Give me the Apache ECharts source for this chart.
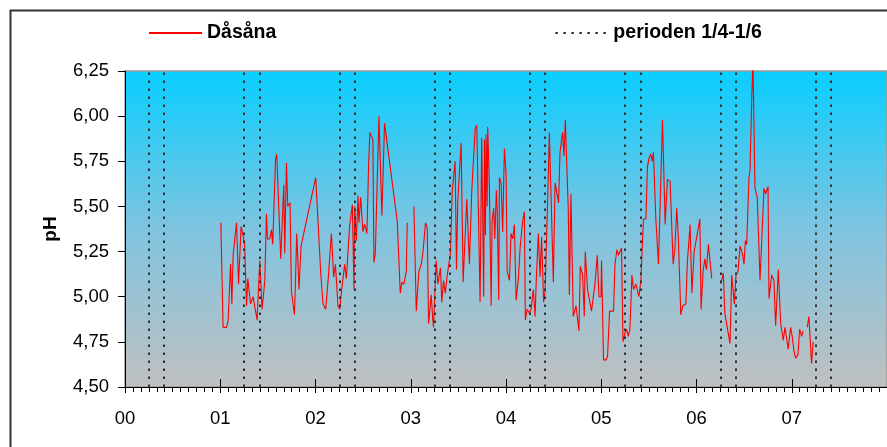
<!DOCTYPE html>
<html>
<head>
<meta charset="utf-8">
<script src="https://cdn.jsdelivr.net/npm/echarts@6/dist/echarts.min.js"></script>
<style>
html,body{margin:0;padding:0;background:#fff;}
#c{width:887px;height:447px;}
</style>
</head>
<body>
<div id="c"></div>
<script>
// x values in years since 2000 (00 = Jan 2000); null pH = gap in the line
var years = [
1.006,1.030,1.066,1.083,1.108,1.122,1.135,1.171,1.192,1.219,1.230,1.255,1.276,1.289,1.318,1.345,1.363,1.387,1.415,1.439,
1.468,1.485,1.496,1.520,1.538,1.551,1.580,1.593,1.635,1.667,1.677,1.695,1.709,1.733,1.747,1.779,1.789,1.803,1.827,1.848,
2.002,2.016,2.055,2.079,2.107,2.135,2.167,2.191,2.209,2.236,2.254,2.271,2.306,2.324,2.358,2.387,2.404,2.411,2.429,2.446,
2.456,2.474,2.498,2.516,2.540,2.558,2.571,2.603,2.613,2.628,2.666,2.697,2.725,2.858,2.890,2.907,2.928,2.953,2.963,3.000,
3.033,3.058,3.074,3.085,3.110,3.127,3.155,3.173,3.187,3.215,3.229,3.239,3.267,3.284,3.312,3.326,3.344,3.362,3.383,3.399,
3.417,3.435,3.466,3.480,3.494,3.512,3.529,3.550,3.588,3.616,3.640,3.676,3.693,3.728,3.745,3.766,3.774,3.784,3.791,3.802,
3.808,3.826,3.844,3.854,3.871,3.882,3.899,3.907,3.924,3.931,3.949,3.965,3.983,4.001,4.012,4.036,4.053,4.070,4.088,4.106,
4.130,4.148,4.175,4.193,4.203,4.221,4.245,4.263,4.287,4.305,4.319,4.340,4.357,4.374,4.395,4.410,4.437,4.455,4.497,4.515,
4.532,4.552,4.567,4.594,4.609,4.623,4.654,4.665,4.682,4.706,4.735,4.752,4.766,4.780,4.804,4.822,4.832,4.856,4.874,4.898,
4.934,4.958,4.976,4.997,5.003,5.024,5.049,5.066,5.087,5.129,5.144,5.165,5.181,5.213,5.228,5.249,5.265,5.283,5.301,5.322,
5.339,5.364,5.381,5.395,5.416,5.443,5.469,5.485,5.503,5.521,5.535,5.548,5.573,5.601,5.626,5.643,5.671,5.695,5.723,5.755,
5.772,5.793,5.810,5.835,5.856,5.888,5.905,5.933,5.951,5.975,5.999,6.035,6.048,6.069,6.087,6.104,6.125,6.143,6.160,6.200,
6.255,6.282,6.297,6.310,6.352,6.370,6.397,6.415,6.436,6.457,6.481,6.499,6.513,6.527,6.551,6.562,6.580,6.593,6.614,6.638,
6.667,6.684,6.709,6.726,6.751,6.761,6.789,6.813,6.831,6.859,6.884,6.911,6.929,6.947,6.963,6.988,7.005,7.023,7.041,7.065,
7.083,7.104,7.121,7.140,7.163,7.180,7.208,7.225
];
var ph = [
5.41,4.83,4.83,4.87,5.18,4.96,5.23,5.41,5.07,5.39,5.40,5.30,4.95,5.10,4.96,5.00,5.00,4.87,5.20,4.93,
5.09,5.46,5.32,5.32,5.37,5.29,5.76,5.79,5.21,5.62,5.24,5.74,5.50,5.52,5.03,4.90,5.07,5.35,5.04,5.28,
5.66,5.65,5.13,4.96,4.93,5.11,5.35,5.11,5.18,4.95,4.93,5.02,5.18,5.10,5.39,5.51,5.04,5.50,5.31,5.56,
5.41,5.55,5.36,5.40,5.35,5.74,5.91,5.87,5.19,5.24,6.00,5.45,5.96,5.42,5.02,5.08,5.07,5.14,5.41,null,
5.50,4.92,4.93,5.14,5.18,5.24,5.41,5.38,4.85,5.01,4.89,4.83,5.20,5.07,5.16,4.97,5.09,5.02,5.12,5.11,
5.24,5.58,5.75,5.15,5.53,5.54,5.85,5.08,5.54,5.18,5.58,5.93,5.95,4.97,5.88,5.00,5.87,5.34,5.90,5.50,
5.94,5.60,4.95,5.42,5.49,5.32,5.59,5.49,4.98,5.66,5.63,5.36,5.82,5.68,5.14,5.09,5.35,5.32,5.40,4.98,
5.10,5.27,5.42,5.47,4.87,4.93,4.91,4.93,5.04,4.89,5.11,5.35,5.11,5.33,4.97,5.03,5.53,5.91,5.08,5.63,
5.63,5.52,5.80,5.91,5.78,5.98,5.48,5.01,5.57,4.89,4.95,4.96,4.81,5.17,5.12,4.89,5.25,5.04,5.04,4.92,
5.07,5.23,5.00,5.00,5.20,4.65,4.65,4.67,4.92,4.92,5.18,5.26,5.23,5.27,4.75,4.80,4.82,4.78,4.82,5.12,
5.04,5.07,5.06,5.00,5.09,5.43,5.43,5.72,5.77,5.79,5.75,5.80,5.43,5.18,5.66,5.98,5.40,5.65,5.64,5.18,
5.26,5.49,5.32,4.90,4.95,4.96,5.20,5.40,5.02,5.25,5.32,5.43,4.93,5.14,5.21,5.15,5.29,5.28,5.10,null,
5.07,5.13,4.91,4.92,4.74,5.12,4.96,5.12,5.14,5.28,5.24,5.18,5.31,5.29,5.66,5.70,6.10,6.30,5.60,5.55,
5.09,5.30,5.60,5.57,5.61,4.99,5.12,5.09,4.84,5.15,4.85,4.76,4.83,4.82,4.71,4.83,4.78,4.70,4.66,4.68,
4.82,4.78,4.81,null,4.83,4.89,4.63,4.75
];
// dotted lines: 1 April and 1 June of each year
var periodLines = [0.247,0.414,1.247,1.414,2.247,2.414,3.247,3.414,4.247,4.414,5.247,5.414,6.247,6.414,7.247,7.414];
var yearTicks = ['00','01','02','03','04','05','06','07','08'];
var seriesName = 'Dåsåna';
var periodName = 'perioden 1/4-1/6';

var FONT = '"Liberation Sans", Arial, sans-serif';
var chart = echarts.init(document.getElementById('c'), null, {renderer:'canvas'});
var lineData = years.map(function(x,i){ return [x, ph[i] === null ? '-' : ph[i]]; });
var dotted = [2.5, 5.5];

var option = {
  animation: false,
  graphic: [{
    type: 'rect', left: 8, top: 8, silent: true, z: 100,
    shape: {x: 0, y: 0, width: 1000, height: 1000},
    style: {fill: 'none', stroke: '#333', lineWidth: 2}
  }],
  legend: {
    data: [seriesName, periodName], left: 143, top: 18, itemWidth: 53, itemHeight: 12,
    itemGap: 278, selectedMode: false,
    itemStyle: {opacity: 0},
    textStyle: {fontFamily: FONT, fontWeight: 'bold', fontSize: 19.5, color: '#000'}
  },
  grid: {
    left: 125, top: 71, width: 763, height: 316,
    show: true, borderColor: '#999', borderWidth: 1.5,
    backgroundColor: {type: 'linear', x: 0, y: 0, x2: 0, y2: 1,
      colorStops: [{offset: 0, color: '#08ceff'}, {offset: 0.5, color: '#7fc4e0'}, {offset: 1, color: '#c0c0c0'}]}
  },
  xAxis: [{
    type: 'value', min: 0, max: 8, interval: 1,
    axisLine: {lineStyle: {color: '#000', width: 1}},
    axisTick: {show: true, length: 6, lineStyle: {color: '#000'}},
    minorTick: {show: true, splitNumber: 12, length: 5, lineStyle: {color: '#000'}},
    splitLine: {show: false}, minorSplitLine: {show: false},
    axisLabel: {margin: 22, fontFamily: FONT, fontSize: 18.5, color: '#000', showMaxLabel: false,
      formatter: function(v){ return yearTicks[Math.round(v)]; }}
  }, {
    type: 'value', min: 0, max: 8, interval: 1, position: 'bottom',
    axisLine: {show: false},
    axisTick: {show: true, inside: true, length: 8, lineStyle: {color: '#000'}},
    axisLabel: {show: false}, splitLine: {show: false}
  }],
  yAxis: {
    type: 'value', min: 4.5, max: 6.25, interval: 0.25,
    name: 'pH', nameLocation: 'middle', nameGap: 65, nameRotate: 90,
    nameTextStyle: {fontFamily: FONT, fontWeight: 'bold', fontSize: 19, color: '#000'},
    axisLine: {show: true, lineStyle: {color: '#000', width: 1}},
    axisTick: {show: true, length: 7, lineStyle: {color: '#000'}},
    splitLine: {show: false},
    axisLabel: {margin: 16, fontFamily: FONT, fontSize: 18.5, color: '#000',
      formatter: function(v){ return v.toFixed(2).replace('.', ','); }}
  },
  series: [{
    name: seriesName, type: 'line', data: lineData, symbol: 'none', showSymbol: false,
    connectNulls: false, clip: true, z: 3,
    lineStyle: {color: '#ff0000', width: 1.1},
    itemStyle: {color: '#ff0000'}
  }, {
    name: periodName, type: 'line', data: [], symbol: 'none', z: 2,
    lineStyle: {color: '#333', width: 2, type: dotted},
    itemStyle: {color: '#333'},
    markLine: {
      silent: true, symbol: ['none', 'none'], label: {show: false}, animation: false,
      lineStyle: {color: '#333', width: 2, type: dotted},
      data: periodLines.map(function(v){ return {xAxis: v}; })
    }
  }]
};
chart.setOption(option);
</script>
</body>
</html>
